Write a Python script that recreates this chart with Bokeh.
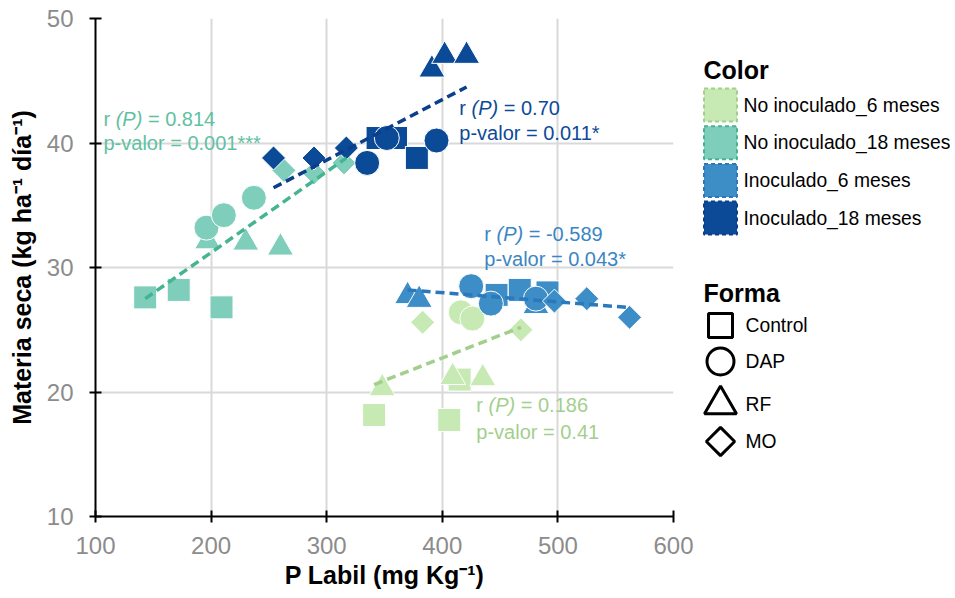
import numpy as np
from bokeh.plotting import figure
from bokeh.models import Range1d, FixedTicker, ColumnDataSource
from bokeh.layouts import row
from bokeh.core.properties import value
from bokeh.embed import file_html
from bokeh.resources import INLINE

# ---------------- data ----------------
group_names = ["No inoculado_6 meses", "No inoculado_18 meses",
               "Inoculado_6 meses", "Inoculado_18 meses"]
shape_names = ["Control", "DAP", "RF", "MO"]

# No inoculado_6 meses
ni6_shape = ["Control", "Control", "Control", "RF", "RF", "RF", "DAP", "DAP", "MO", "MO"]
ni6_x = [341, 406, 415, 348, 409, 435, 416, 426, 383, 468]
ni6_y = [18.15, 17.75, 21.0, 20.3, 21.2, 21.1, 26.4, 25.9, 25.6, 25.0]

# No inoculado_18 meses
ni18_shape = ["Control"] * 3 + ["RF"] * 3 + ["DAP"] * 3 + ["MO"] * 3
ni18_x = [143, 172, 209, 197, 230, 260, 196, 211, 237, 263, 289, 315]
ni18_y = [27.6, 28.2, 26.8, 32.1, 32.0, 31.6, 33.2, 34.2, 35.6, 37.8, 37.6, 38.4]

# Inoculado_6 meses
i6_shape = ["Control"] * 3 + ["RF"] * 3 + ["DAP"] * 3 + ["MO"] * 3
i6_x = [447, 467, 491, 370, 380, 481, 425, 442, 481, 497, 525, 562]
i6_y = [27.8, 28.2, 28.0, 27.7, 27.4, 26.9, 28.5, 27.1, 27.5, 27.3, 27.5, 26.0]

# Inoculado_18 meses
i18_shape = ["Control"] * 3 + ["RF"] * 3 + ["DAP"] * 3 + ["MO"] * 3
i18_x = [344, 360, 378, 391, 402, 421, 335, 352, 395, 254, 289, 317]
i18_y = [40.4, 40.4, 38.8, 45.9, 47.0, 47.0, 38.4, 40.4, 40.2, 38.8, 38.8, 39.6]

# trend lines (end points)
ni6_trend_x, ni6_trend_y = [341, 468], [20.6, 25.2]
ni18_trend_x, ni18_trend_y = [143, 317], [27.5, 38.8]
i6_trend_x, i6_trend_y = [370, 559], [28.2, 26.8]
i18_trend_x, i18_trend_y = [254, 421], [36.4, 44.5]

# statistics labels
r_values = ["0.186", "0.814", "-0.589", "0.70"]
p_values = ["0.41", "0.001***", "0.043*", "0.011*"]
label_x = [429.4, 106.9, 436.3, 414.7]
label_y_r = [18.92, 41.9, 32.73, 42.85]
label_y_p = [16.75, 40.0, 30.72, 40.84]

x_ticks = [100, 200, 300, 400, 500, 600]
y_ticks = [10, 20, 30, 40, 50]

# ---------------- styles ----------------
FONT = "Liberation Sans"
fill_colors = ["#c7e9b4", "#7fcdbb", "#3d8dc7", "#0b4a97"]
line_colors = ["#a3cf8c", "#45b591", "#2b78bd", "#0b3f8c"]
text_colors = ["#a3cf8e", "#5fc1a2", "#3a86c4", "#0d4a98"]
marker_of = {"Control": "square", "DAP": "circle", "RF": "triangle", "MO": "square"}
size_of = {"Control": 23, "DAP": 25, "RF": 26, "MO": 17}
angle_of = {"Control": 0.0, "DAP": 0.0, "RF": 0.0, "MO": np.pi / 4}
draw_order = ["Control", "RF", "DAP", "MO"]

groups = [
    (ni6_shape, ni6_x, ni6_y, ni6_trend_x, ni6_trend_y),
    (ni18_shape, ni18_x, ni18_y, ni18_trend_x, ni18_trend_y),
    (i6_shape, i6_x, i6_y, i6_trend_x, i6_trend_y),
    (i18_shape, i18_x, i18_y, i18_trend_x, i18_trend_y),
]

TOP, BOTTOM = 18, 82
p = figure(width=700, height=598, x_range=Range1d(100, 600), y_range=Range1d(10, 50),
           toolbar_location=None, output_backend="svg",
           min_border_left=95, min_border_right=27, min_border_top=TOP, min_border_bottom=BOTTOM)
p.outline_line_color = None
p.background_fill_color = "white"
p.border_fill_color = "white"

for g in (p.xgrid, p.ygrid):
    g.grid_line_color = "#d9d9d9"
    g.grid_line_width = 2

p.xaxis.ticker = FixedTicker(ticks=x_ticks)
p.yaxis.ticker = FixedTicker(ticks=y_ticks)
for ax in (p.xaxis, p.yaxis):
    ax.axis_line_color = "black"
    ax.axis_line_width = 2
    ax.major_tick_line_color = "black"
    ax.major_tick_line_width = 2
    ax.major_tick_in = 6
    ax.major_tick_out = 6
    ax.minor_tick_line_color = None
    ax.major_label_text_color = "#8c8c8c"
    ax.major_label_text_font = FONT
    ax.major_label_text_font_size = "24px"
    ax.axis_label_text_font = FONT
    ax.axis_label_text_font_style = "bold"
    ax.axis_label_text_font_size = "25px"
    ax.axis_label_text_color = "black"
p.xaxis.major_label_standoff = 14
p.xaxis.axis_label_standoff = 4
p.yaxis.major_label_standoff = 16
p.yaxis.axis_label_standoff = 8
p.xaxis.axis_label = "P Labil (mg Kg\u207b\u00b9)"
p.yaxis.axis_label = "Materia seca (kg ha\u207b\u00b9 d\u00eda\u207b\u00b9)"

# points
for gi, (shp, xs, ys, tx, ty) in enumerate(groups):
    for s in draw_order:
        idx = [i for i, v in enumerate(shp) if v == s]
        if not idx:
            continue
        src = ColumnDataSource(dict(x=[xs[i] for i in idx], y=[ys[i] for i in idx]))
        p.scatter("x", "y", source=src, marker=marker_of[s], size=size_of[s],
                  angle=angle_of[s], fill_color=fill_colors[gi], fill_alpha=1.0,
                  line_color="white", line_width=1)

# trend lines
for gi, (shp, xs, ys, tx, ty) in enumerate(groups):
    p.line(tx, ty, line_color=line_colors[gi], line_width=3.5, line_dash="9 5")

# statistic labels: "r (P) = value" with italic (P)
fs = 20
w_r = (0.333 + 0.278) * fs
w_P = (0.333 + 0.667 + 0.333) * fs + 0.278 * fs
for gi in range(4):
    common = dict(text_font=value(FONT), text_font_size=value(f"{fs}px"),
                  text_color=text_colors[gi], text_baseline="middle", text_align="left")
    p.text(x=[label_x[gi]], y=[label_y_r[gi]], text=["r"], **common)
    p.text(x=[label_x[gi]], y=[label_y_r[gi]], text=["(P)"], x_offset=w_r,
           text_font_style="italic", **common)
    p.text(x=[label_x[gi]], y=[label_y_r[gi]], text=["= " + r_values[gi]],
           x_offset=w_r + w_P, **common)
    p.text(x=[label_x[gi]], y=[label_y_p[gi]], text=["p-valor = " + p_values[gi]], **common)

# ---------------- legend panel (screen-like coordinates) ----------------
H = 598
leg = figure(width=255, height=H, x_range=Range1d(0, 255), y_range=Range1d(H - BOTTOM, TOP),
             toolbar_location=None, output_backend="svg",
             x_axis_location=None, y_axis_location=None,
             min_border_left=0, min_border_right=0, min_border_top=TOP, min_border_bottom=BOTTOM)
leg.outline_line_color = None
leg.grid.visible = False
leg.background_fill_color = "white"
leg.border_fill_color = "white"

title_style = dict(text_font=value(FONT), text_font_size=value("25px"), text_font_style="bold",
                   text_color="black", text_baseline="middle", text_align="left")
lab_style = dict(text_font=value(FONT), text_font_size=value("19.3px"),
                 text_color="black", text_baseline="middle", text_align="left")

color_top, color_step = 104.5, 37.7
leg.text(x=[3], y=[69], text=["Color"], **title_style)
cy = [color_top + i * color_step for i in range(len(group_names))]
leg.rect(x=[20] * 4, y=cy, width=33, height=33, fill_color=fill_colors,
         line_color=line_colors, line_width=2, line_dash="4 3")
leg.text(x=[43] * 4, y=cy, text=group_names, **lab_style)

leg.text(x=[3], y=[292], text=["Forma"], **title_style)
shape_y = {"Control": 325, "DAP": 361, "RF": 404, "MO": 441}
shape_size = {"Control": 24, "DAP": 27, "RF": 32, "MO": 20}
for s in shape_names:
    leg.scatter([20], [shape_y[s]], marker=marker_of[s], size=shape_size[s],
                angle=-angle_of[s], fill_color=None, line_color="black", line_width=3)
leg.text(x=[45] * 4, y=[shape_y[s] for s in shape_names], text=shape_names, **lab_style)

layout = row(p, leg)
open("out.html", "w").write(file_html(layout, INLINE))
